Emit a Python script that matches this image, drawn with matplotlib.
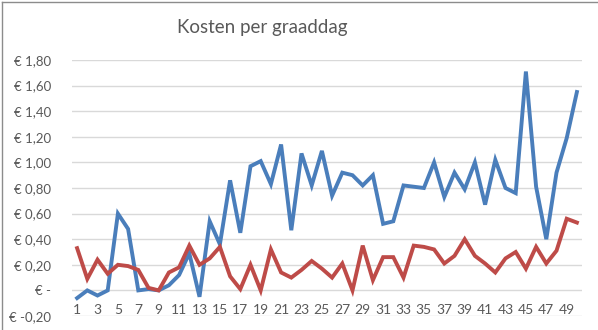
import matplotlib.pyplot as plt
from matplotlib.ticker import FuncFormatter
from matplotlib.lines import Line2D

# graaddagen 1..50
dagen = list(range(1, 51))

# kosten per graaddag (blauw)
blauw = [-0.06, 0.00, -0.04, 0.00, 0.60, 0.48, 0.00, 0.01, 0.00, 0.04,
         0.12, 0.29, -0.05, 0.54, 0.36, 0.86, 0.45, 0.97, 1.01, 0.83,
         1.14, 0.47, 1.07, 0.82, 1.09, 0.74, 0.92, 0.90, 0.82, 0.90,
         0.52, 0.54, 0.82, 0.81, 0.80, 1.00, 0.73, 0.92, 0.79, 1.00,
         0.67, 1.02, 0.80, 0.76, 1.71, 0.81, 0.40, 0.92, 1.19, 1.55]

# kosten per graaddag (rood)
rood = [0.33, 0.09, 0.24, 0.13, 0.20, 0.19, 0.16, 0.02, 0.00, 0.14,
        0.18, 0.35, 0.20, 0.25, 0.34, 0.11, 0.01, 0.20, 0.00, 0.32,
        0.14, 0.10, 0.16, 0.23, 0.17, 0.10, 0.21, 0.00, 0.35, 0.08,
        0.26, 0.26, 0.10, 0.35, 0.34, 0.32, 0.21, 0.27, 0.40, 0.27,
        0.21, 0.14, 0.25, 0.30, 0.17, 0.34, 0.21, 0.31, 0.56, 0.53]

yticks = [-0.2, 0.0, 0.2, 0.4, 0.6, 0.8, 1.0, 1.2, 1.4, 1.6, 1.8]

plt.rcParams['font.family'] = ['Lato', 'DejaVu Sans']

fig = plt.figure(figsize=(5.98, 3.30), dpi=100)
ax = fig.add_axes([72/598, 14/330, 510/598, 256/330])

ax.plot(dagen, blauw, color='#4A7EBB', lw=2.8, solid_joinstyle='miter')
ax.plot(dagen, rood, color='#BE4B48', lw=2.8, solid_joinstyle='miter')

ax.set_xlim(0.5, 50.5)
ax.set_ylim(-0.2, 1.8)
ax.set_yticks(yticks)

def euro(v, pos):
    if abs(v) < 1e-9:
        return '€ -'
    return '€ ' + ('%.2f' % v).replace('.', ',')

ax.yaxis.set_major_formatter(FuncFormatter(euro))
ax.grid(axis='y', color='#D9D9D9', lw=1)
ax.set_axisbelow(True)
for s in ax.spines.values():
    s.set_visible(False)
ax.tick_params(axis='y', length=0, pad=15, labelsize=9.5, labelcolor='#595959')
ax.set_xticks([])

# categorie-labels staan onder de nul-lijn (as kruist bij 0)
for d in dagen[::2]:
    ax.text(d, -0.15, str(d), ha='center', va='center', fontsize=10,
            color='#595959', transform=ax.transData, zorder=0)

fig.text(262/598, 1 - 28/330, 'Kosten per graaddag', ha='center', va='center',
         fontsize=13.5, color='#595959')

# rand van de grafiek
fig.add_artist(Line2D([2/598, 2/598], [0, 1 - 2/330], color='#8C8C8C', lw=1))
fig.add_artist(Line2D([2/598, 1], [1 - 2/330, 1 - 2/330], color='#8C8C8C', lw=1))

fig.savefig('out.png', dpi=100)
